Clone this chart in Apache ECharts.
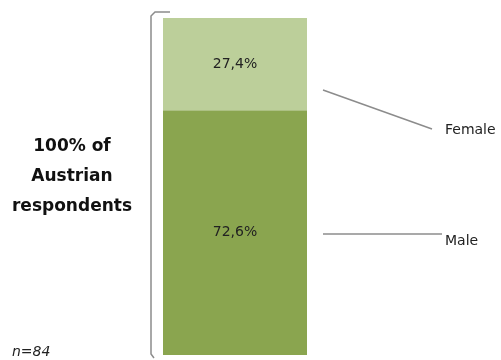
<!DOCTYPE html>
<html><head><meta charset="utf-8">
<script src="https://cdn.jsdelivr.net/npm/echarts@6/dist/echarts.min.js"></script>
<style>html,body{margin:0;padding:0;background:#fff}#c{width:501px;height:360px}</style>
</head><body><div id="c"></div>
<script>
const categories = ['Austria'];
const seriesNames = ['Male', 'Female'];
const maleValues = [72.6];
const femaleValues = [27.4];
const sideTitle = ['100% of', 'Austrian', 'respondents'];
const sampleNote = 'n=84';

const FONT = '"DejaVu Sans", sans-serif';
const chart = echarts.init(document.getElementById('c'), null, {renderer: 'canvas'});
const labelStyle = {show: true, position: 'inside', color: '#222', fontSize: 14, fontFamily: FONT,
  formatter: p => String(p.value).replace('.', ',') + '%'};
chart.setOption({
  animation: false,
  grid: {left: 163, width: 144, top: 18, bottom: 5},
  xAxis: {type: 'category', data: categories, show: false},
  yAxis: {type: 'value', min: 0, max: 100, show: false},
  series: [
    {name: seriesNames[0], type: 'bar', stack: 's', data: maleValues, barWidth: '100%',
     itemStyle: {color: '#8aa54f'}, label: labelStyle},
    {name: seriesNames[1], type: 'bar', stack: 's', data: femaleValues, barWidth: '100%',
     itemStyle: {color: '#bccf9a'}, label: labelStyle}
  ],
  graphic: [
    {type: 'polyline', shape: {points: [[170, 12], [155, 12], [151, 16], [151, 354], [154, 358]]},
     style: {stroke: '#8c8c8c', lineWidth: 1.5, fill: null}},
    {type: 'line', shape: {x1: 323, y1: 90, x2: 432, y2: 129}, style: {stroke: '#8c8c8c', lineWidth: 1.5}},
    {type: 'line', shape: {x1: 323, y1: 234, x2: 442, y2: 234}, style: {stroke: '#8c8c8c', lineWidth: 1.5}},
    {type: 'text', x: 445, y: 130, style: {text: seriesNames[1], fontSize: 14, fill: '#222', fontFamily: FONT, verticalAlign: 'middle'}},
    {type: 'text', x: 445, y: 241, style: {text: seriesNames[0], fontSize: 14, fill: '#222', fontFamily: FONT, verticalAlign: 'middle'}},
    {type: 'text', x: 72, y: 177, style: {text: sideTitle.join('\n'), fontSize: 17, fontWeight: 'bold', fill: '#111',
      fontFamily: FONT, align: 'center', verticalAlign: 'middle', lineHeight: 30}},
    {type: 'text', x: 12, y: 352, style: {text: sampleNote, fontSize: 14, fontStyle: 'italic', fill: '#222', fontFamily: FONT, verticalAlign: 'middle'}}
  ]
});
</script></body></html>
